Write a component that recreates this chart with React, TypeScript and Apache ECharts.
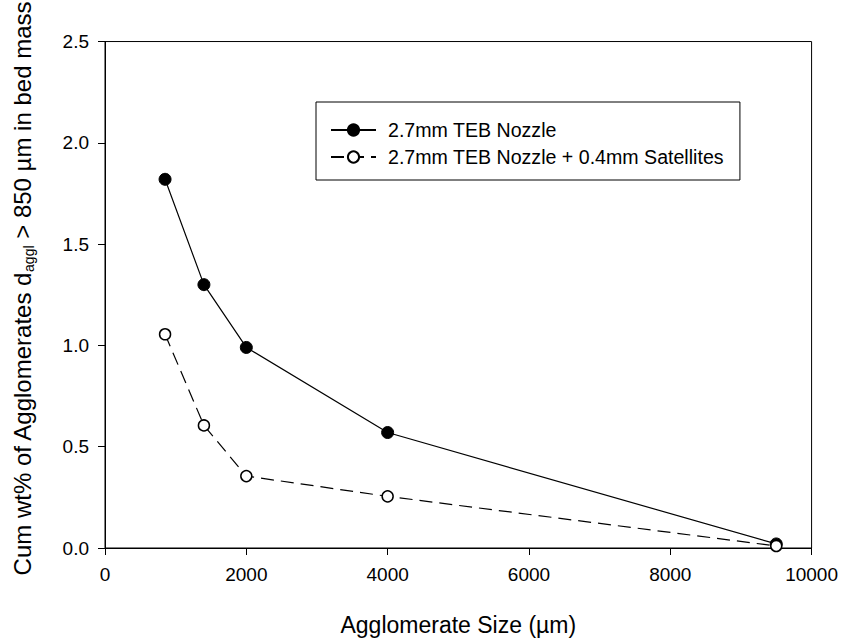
import React, { useEffect, useRef } from "react";
import * as echarts from "echarts";

const seriesNames = ["2.7mm TEB Nozzle", "2.7mm TEB Nozzle + 0.4mm Satellites"];
const sizes = [850, 1400, 2000, 4000, 9500];
const nozzle = [1.82, 1.3, 0.99, 0.57, 0.02];
const nozzleSat = [1.055, 0.605, 0.355, 0.255, 0.01];
const xTicks = [0, 2000, 4000, 6000, 8000, 10000];
const yTicks = [0, 0.5, 1.0, 1.5, 2.0, 2.5];

const FONT = "'Liberation Sans', Arial, Helvetica, sans-serif";

export default function App() {
  const ref = useRef<HTMLDivElement>(null);
  useEffect(() => {
    document.body.style.margin = "0";
    if (!ref.current) return;
    const chart = echarts.init(ref.current, null, { renderer: "svg" });
    const toPairs = (ys: number[]) => sizes.map((x, i) => [x, ys[i]]);
    chart.setOption({
      animation: false,
      backgroundColor: "#fff",
      textStyle: { fontFamily: FONT, color: "#000" },
      grid: {
        left: 103,
        right: 29,
        top: 41,
        bottom: 90,
        show: true,
        borderColor: "#000",
        borderWidth: 1,
        backgroundColor: "transparent",
      },
      legend: {
        orient: "vertical",
        left: 316,
        top: 102,
        padding: [18, 16, 13, 14],
        itemGap: 7,
        itemWidth: 45,
        itemHeight: 14,
        borderColor: "#000",
        borderWidth: 1,
        backgroundColor: "#fff",
        textStyle: { fontFamily: FONT, fontSize: 19.6, color: "#000", padding: [0, 0, 0, 7] },
        data: seriesNames,
      },
      xAxis: {
        type: "value",
        min: xTicks[0],
        max: xTicks[xTicks.length - 1],
        interval: 2000,
        name: "Agglomerate Size (µm)",
        nameLocation: "middle",
        nameGap: 65,
        nameTextStyle: { fontFamily: FONT, fontSize: 23, color: "#000" },
        axisLine: { show: true, onZero: false, lineStyle: { color: "#000", width: 1 } },
        axisTick: { show: true, inside: false, length: 7, lineStyle: { color: "#000" } },
        axisLabel: {
          fontFamily: FONT,
          fontSize: 19,
          color: "#000",
          margin: 17,
          formatter: (v: number) => String(v),
        },
        splitLine: { show: false },
      },
      yAxis: {
        type: "value",
        min: yTicks[0],
        max: yTicks[yTicks.length - 1],
        interval: 0.5,
        name: "Cum wt% of Agglomerates d{sub|aggl} > 850 µm in bed mass",
        nameLocation: "middle",
        nameGap: 69,
        nameTextStyle: {
          fontFamily: FONT,
          fontSize: 24,
          color: "#000",
          lineHeight: 28,
          padding: [0, 0, 0, 12],
          rich: {
            sub: { fontFamily: FONT, fontSize: 14, lineHeight: 14, verticalAlign: "bottom", color: "#000" },
          },
        },
        axisLine: { show: true, onZero: false, lineStyle: { color: "#000", width: 1 } },
        axisTick: { show: true, inside: false, length: 7, lineStyle: { color: "#000" } },
        axisLabel: {
          fontFamily: FONT,
          fontSize: 19,
          color: "#000",
          margin: 16,
          formatter: (v: number) => v.toFixed(1),
        },
        splitLine: { show: false },
      },
      series: [
        {
          name: seriesNames[0],
          type: "line",
          data: toPairs(nozzle),
          symbol: "circle",
          symbolSize: 12,
          lineStyle: { color: "#000", width: 1.2, type: "solid" },
          itemStyle: { color: "#000", borderColor: "#000", borderWidth: 1 },
          z: 2,
        },
        {
          name: seriesNames[1],
          type: "line",
          data: toPairs(nozzleSat),
          symbol: "circle",
          symbolSize: 11,
          lineStyle: { color: "#000", width: 1.2, type: [13, 7] },
          itemStyle: { color: "#fff", borderColor: "#000", borderWidth: 1.5 },
          z: 3,
        },
      ],
    });
    return () => chart.dispose();
  }, []);
  return (
    <div
      ref={ref}
      style={{ width: 841, height: 641, position: "absolute", left: 0, top: 0 }}
    />
  );
}
